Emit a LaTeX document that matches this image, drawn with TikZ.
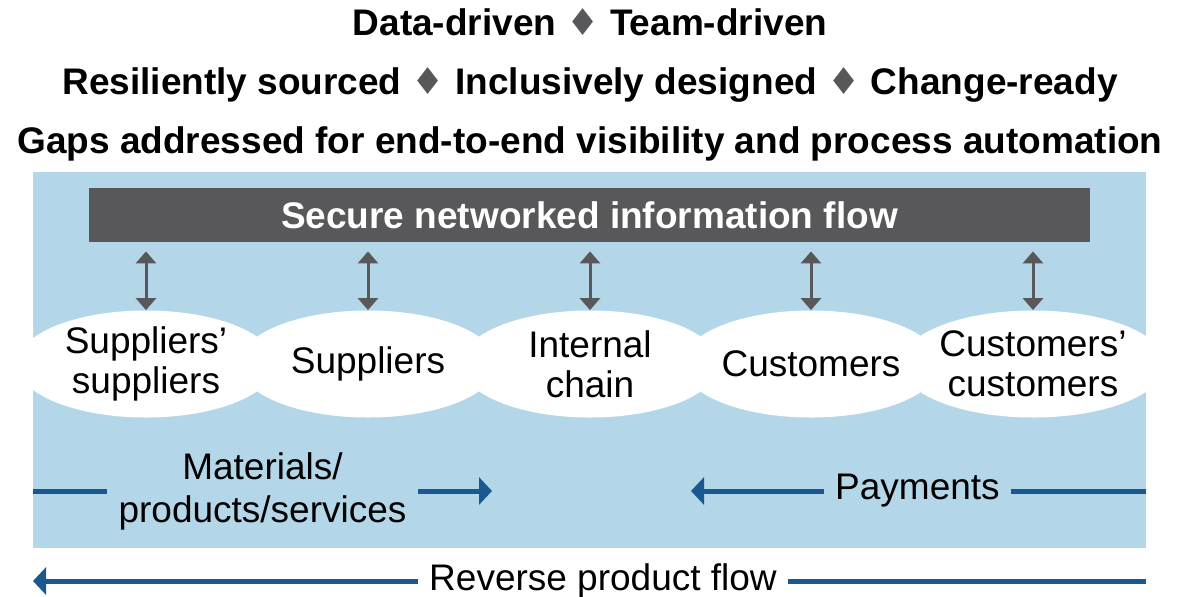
\documentclass[tikz,border=0pt]{standalone}
\usepackage{fontspec}
\setmainfont{Liberation Sans}
\newfontfamily\symfont{DejaVu Sans}
\usetikzlibrary{arrows.meta,shapes.geometric}

\definecolor{skyfill}{RGB}{179,215,232}
\definecolor{bargray}{RGB}{88,88,90}
\definecolor{flowblue}{RGB}{26,88,143}
\newcommand{\sepmark}{{\symfont\color{bargray}♦}}

\begin{document}
\begin{tikzpicture}[x=0.5pt,y=-0.5pt,
  headline/.style={anchor=base,font=\bfseries\fontsize{18.5}{21}\selectfont},
  stage/.style={ellipse,fill=white,minimum width=129pt,minimum height=53.5pt,
    inner sep=0pt,align=center,font=\fontsize{18.5}{20}\selectfont},
  flowtext/.style={inner xsep=5.5pt,align=center,font=\fontsize{18.5}{21.5}\selectfont},
  infolink/.style={draw=bargray,line width=1.5pt,>={Triangle[width=10pt,length=6pt]},<->},
  flowline/.style={draw=flowblue,line width=2.5pt},
  flowarrow/.style={flowline,-{Triangle[width=13.5pt,length=6.5pt]}}]
  \useasboundingbox (0,0) rectangle (1180,596);

  % Headlines
  \node[headline] (motto) at (590,35) {Data-driven \sepmark{} Team-driven};
  \node[headline] (traits) at (590,94) {Resiliently sourced \sepmark{} Inclusively designed \sepmark{} Change-ready};
  \node[headline] (gaps) at (590,153) {Gaps addressed for end-to-end visibility and process automation};

  % Light blue field
  \fill[skyfill] (33,172) rectangle (1146,548);

  % Information bar
  \node[fill=bargray,text=white,minimum width=500.5pt,minimum height=27pt,inner sep=0pt,
    font=\bfseries\fontsize{18.5}{21}\selectfont] (infobar) at (589.5,215) {Secure networked information flow};

  % Chain of stages, cut at the field edges
  \begin{scope}
    \clip (33,172) rectangle (1146,548);
    \node[stage] (supsup) at (146,364) {Suppliers’\\suppliers};
    \node[stage] (sup) at (368,364) {Suppliers};
    \node[stage] (internal) at (590,364) {Internal\\chain};
    \node[stage] (cust) at (811,364) {Customers};
    \node[stage] (custcust) at (1033,364) {Customers’\\customers};
  \end{scope}

  % Links to the information bar
  \draw[infolink,shorten <=4.5pt] (supsup.north |- infobar.south) -- (supsup.north);
  \draw[infolink,shorten <=4.5pt] (sup.north |- infobar.south) -- (sup.north);
  \draw[infolink,shorten <=4.5pt] (internal.north |- infobar.south) -- (internal.north);
  \draw[infolink,shorten <=4.5pt] (cust.north |- infobar.south) -- (cust.north);
  \draw[infolink,shorten <=4.5pt] (custcust.north |- infobar.south) -- (custcust.north);

  % Forward flow of goods
  \coordinate (matlstart) at (33,491);
  \coordinate (matlend) at (492,491);
  \node[flowtext] (matl) at (262.5,491) {Materials/\\products/services};
  \draw[flowline] (matlstart) -- (matl.west);
  \draw[flowarrow] (matl.east) -- (matlend);

  % Payments back
  \coordinate (paystart) at (1146,491);
  \coordinate (payend) at (691,491);
  \node[flowtext] (pay) at (917.5,491) {Payments};
  \draw[flowline] (paystart) -- (pay.east);
  \draw[flowarrow] (pay.west) -- (payend);

  % Reverse flow under the field
  \coordinate (revstart) at (1146,581);
  \coordinate (revend) at (33,581);
  \node[flowtext] (rev) at (603,581) {Reverse product flow};
  \draw[flowline] (revstart) -- (rev.east);
  \draw[flowarrow] (rev.west) -- (revend);

\end{tikzpicture}
\end{document}
